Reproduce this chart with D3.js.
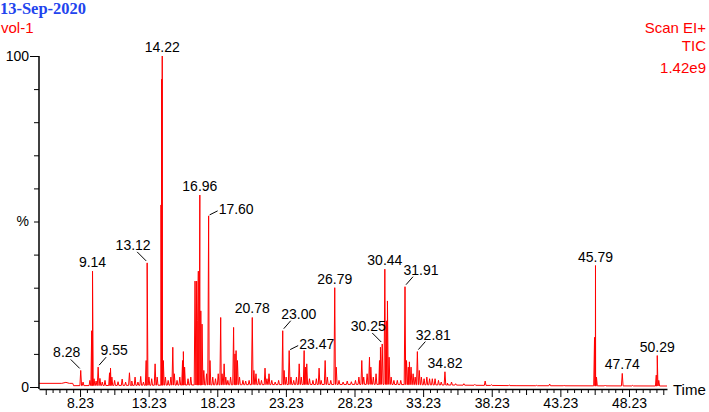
<!DOCTYPE html>
<html>
<head>
<meta charset="utf-8">
<script src="https://cdn.jsdelivr.net/npm/d3@7"></script>
<style>
  body { margin: 0; background: #fff; }
  svg { display: block; font-family: "Liberation Sans", Arial, sans-serif; }
</style>
</head>
<body>
<svg width="709" height="412"></svg>
<script>
const svg = d3.select("svg");

// Baseline level of the trace (time in min, intensity in %)
const baseTimes  = [5.24, 6.9, 7.2, 7.45, 7.70, 7.76, 12.0, 20.0, 30.0, 35.0, 40.0, 51.0];
const baseLevels = [1.1,  1.1, 1.4, 1.1,  1.1,  0.4,  0.5,  0.7,  0.8,  0.6,  0.4,  0.3];

// Peak apexes: retention time (min) and height (%)
const peakTimes = [
  8.28, 8.45, 8.95, 9.08, 9.14, 9.25, 9.40, 9.55, 9.68, 9.85,
  10.05, 10.38, 10.45, 10.55, 10.75, 11.0, 11.3, 11.55, 11.83, 12.0,
  12.24, 12.45, 12.65, 12.85, 13.05, 13.12, 13.25, 13.45, 13.70, 13.85,
  14.13, 14.18, 14.22, 14.30, 14.45, 14.65, 14.85, 14.99, 15.10, 15.30,
  15.50, 15.70, 15.76, 15.85, 16.10, 16.30, 16.61, 16.73, 16.80, 16.85,
  16.96, 17.03, 17.12, 17.25, 17.45, 17.60, 17.70, 17.90, 18.10, 18.30,
  18.48, 18.58, 18.73, 18.85, 19.00, 19.20, 19.42, 19.52, 19.60, 19.70,
  19.85, 20.10, 20.30, 20.55, 20.78, 20.90, 21.05, 21.25, 21.45, 21.71,
  21.85, 22.00, 22.20, 22.45, 22.70, 23.00, 23.10, 23.25, 23.47, 23.60,
  23.80, 24.00, 24.20, 24.35, 24.56, 24.65, 24.75, 24.95, 25.20, 25.45,
  25.65, 25.80, 26.09, 26.25, 26.50, 26.79, 26.90, 27.10, 27.40, 27.70,
  28.00, 28.30, 28.55, 28.76, 28.90, 29.15, 29.32, 29.42, 29.60, 29.80,
  30.05, 30.12, 30.25, 30.44, 30.55, 30.63, 30.75, 30.90, 31.10, 31.35,
  31.60, 31.91, 32.02, 32.15, 32.23, 32.35, 32.50, 32.65, 32.81, 32.95,
  33.10, 33.30, 33.50, 33.70, 33.90, 34.10, 34.35, 34.55, 34.82, 35.00,
  35.30, 35.60, 36.20, 37.00, 37.75, 38.20, 39.50, 41.50, 42.45, 43.50,
  45.72, 45.79, 45.86, 46.50, 47.74, 48.50, 50.22, 50.29, 50.40
];
const peakHeights = [
  5.0, 1.5, 2.0, 17, 35, 2.5, 1.8, 6.0, 2.6, 1.5,
  2.0, 4.3, 5.7, 3.0, 2.0, 1.6, 2.4, 1.5, 4.3, 1.8,
  3.0, 1.5, 3.2, 1.5, 8, 37.5, 3, 2.5, 7, 3,
  55, 93, 100, 8, 3, 2, 3, 12, 4, 2,
  3, 8, 10.7, 6, 2.5, 3, 32, 32, 20, 35,
  58, 23, 19, 5, 4, 51.7, 8, 3, 2.5, 4,
  21, 4, 7, 3, 2, 3, 18, 10, 11, 8,
  3, 2, 1.8, 2, 21, 5, 4, 2.5, 2, 5.7,
  2.5, 4, 2, 1.5, 2, 17, 5, 3, 11, 3,
  2, 3, 7, 3, 11, 6, 7, 2.5, 2, 2.5,
  5.7, 2, 8, 3, 2, 30, 6, 2, 1.5, 1.8,
  1.6, 2, 3, 8, 3, 4, 9, 6, 3, 4,
  8, 12, 13, 35.6, 20, 26, 9, 3, 2, 2,
  2, 30.3, 8, 6, 7.6, 6, 4, 3, 10.7, 5,
  3, 2.5, 3, 2.5, 2.5, 2.5, 2, 1.5, 4.6, 1.2,
  1.5, 1.0, 1.0, 0.8, 1.8, 0.7, 0.6, 0.5, 0.9, 0.5,
  15, 36.7, 3, 0.6, 4.1, 0.5, 3.6, 9.5, 2
];

// Labelled peaks
const labelTimes = [8.28, 9.14, 9.55, 13.12, 14.22, 16.96, 17.60, 20.78, 23.00, 23.47,
                    26.79, 30.25, 30.44, 31.91, 32.81, 34.82, 45.79, 47.74, 50.29];
const labelTexts = ["8.28", "9.14", "9.55", "13.12", "14.22", "16.96", "17.60", "20.78", "23.00", "23.47",
                    "26.79", "30.25", "30.44", "31.91", "32.81", "34.82", "45.79", "47.74", "50.29"];

// X tick values
const xMajorTicks = [8.23, 13.23, 18.23, 23.23, 28.23, 33.23, 38.23, 43.23, 48.23];
const yTicks = [0, 10, 20, 30, 40, 50, 60, 70, 80, 90, 100];

// label placement: leader direction for crowded labels
const leader = {
  "8.28": "upleft", "13.12": "upleft", "30.25": "upleft",
  "9.55": "upright", "23.00": "upright", "31.91": "upright", "32.81": "upright",
  "17.60": "right", "23.47": "right"
};

const x = d3.scaleLinear().domain([5.24, 51.0]).range([39, 667]);
const y = d3.scaleLinear().domain([0, 100]).range([387, 56]);
const baseAt = d3.scaleLinear().domain(baseTimes).range(baseLevels).clamp(true);

// build trace points: every peak rises from the baseline and falls back
const halfW = 0.06;
const pts = [];
baseTimes.forEach(t => pts.push([t, baseAt(t)]));
peakTimes.forEach((t, i) => {
  pts.push([t - halfW, baseAt(t - halfW)]);
  pts.push([t, peakHeights[i]]);
  pts.push([t + halfW, baseAt(t + halfW)]);
});
pts.sort((a, b) => a[0] - b[0]);

const line = d3.line().x(d => x(d[0])).y(d => y(d[1]));

svg.append("path")
  .datum(pts)
  .attr("d", line)
  .attr("fill", "none")
  .attr("stroke", "#ff0000")
  .attr("stroke-width", 1)
  .attr("stroke-linejoin", "miter");

// x axis
const xTickVals = d3.range(0, 91).map(k => 5.73 + k * 0.5).filter(v => v <= 51.0);
const xAxis = d3.axisBottom(x)
  .tickValues(xTickVals)
  .tickSize(4)
  .tickSizeOuter(0)
  .tickFormat(d => {
    const isMajor = xMajorTicks.some(m => Math.abs(m - d) < 1e-6);
    return isMajor ? d.toFixed(2) : "";
  });

const gx = svg.append("g")
  .attr("transform", "translate(0,389)")
  .call(xAxis);
gx.select(".domain").attr("stroke", "#000").attr("stroke-width", 1.5);
gx.selectAll(".tick line")
  .attr("stroke", "#000")
  .attr("y2", d => {
    const k = Math.round((d - 8.23) / 0.5);
    if (k % 10 === 0) return 8;
    if (k % 5 === 0) return 6;
    return 4;
  });
gx.selectAll(".tick text")
  .attr("y", 9)
  .attr("fill", "#000")
  .style("font-size", "14px")
  .style("font-family", "'Liberation Sans', Arial, sans-serif");

svg.append("text")
  .attr("x", 673)
  .attr("y", 395)
  .style("font-size", "15px")
  .text("Time");

// y axis
const yAxis = d3.axisLeft(y)
  .tickValues(yTicks)
  .tickSize(5)
  .tickSizeOuter(0)
  .tickFormat(d => (d === 0 || d === 100) ? d : "");
const gy = svg.append("g")
  .attr("transform", "translate(39,0)")
  .call(yAxis);
gy.select(".domain").attr("stroke", "#000").attr("stroke-width", 1.5)
  .attr("d", `M0,${y(100)}V389`);
gy.selectAll(".tick line")
  .attr("stroke", "#000")
  .attr("x2", d => (d === 0 || d === 100) ? -9 : -5);
gy.selectAll(".tick text")
  .attr("x", -10)
  .attr("fill", "#000")
  .style("font-size", "14px")
  .style("font-family", "'Liberation Sans', Arial, sans-serif");

svg.append("text")
  .attr("x", 29)
  .attr("y", y(50))
  .attr("dy", "0.35em")
  .attr("text-anchor", "end")
  .style("font-size", "14px")
  .text("%");

// peak labels
labelTimes.forEach((t, i) => {
  const h = peakHeights[peakTimes.indexOf(t)];
  const ax = x(t), ay = y(h);
  const txt = labelTexts[i];
  const mode = leader[txt];
  let tx = ax, ty = ay - 4, anchor = "middle";
  if (mode === "upleft") {
    svg.append("line").attr("x1", ax - 1).attr("y1", ay - 2).attr("x2", ax - 10).attr("y2", ay - 11)
      .attr("stroke", "#000");
    tx = ax - 14; ty = ay - 13;
  } else if (mode === "upright") {
    svg.append("line").attr("x1", ax + 1).attr("y1", ay - 2).attr("x2", ax + 8).attr("y2", ay - 10)
      .attr("stroke", "#000");
    tx = ax + 16; ty = ay - 12;
  } else if (mode === "right") {
    svg.append("line").attr("x1", ax + 1).attr("y1", ay - 1).attr("x2", ax + 9).attr("y2", ay - 5)
      .attr("stroke", "#000");
    tx = ax + 10; ty = ay - 2; anchor = "start";
  }
  svg.append("text")
    .attr("x", tx)
    .attr("y", ty)
    .attr("text-anchor", anchor)
    .style("font-size", "14px")
    .attr("fill", "#000")
    .text(txt);
});

// header texts
svg.append("text")
  .attr("x", 0)
  .attr("y", 14)
  .attr("textLength", 86)
  .attr("lengthAdjust", "spacingAndGlyphs")
  .style("font-family", "'Liberation Serif', 'Times New Roman', serif")
  .style("font-weight", "bold")
  .style("font-size", "16px")
  .attr("fill", "#2244ee")
  .text("13-Sep-2020");

svg.append("text")
  .attr("x", 1)
  .attr("y", 33)
  .style("font-size", "15px")
  .attr("fill", "#ff0000")
  .text("vol-1");

const right = [["Scan EI+", 33], ["TIC", 51], ["1.42e9", 73]];
right.forEach(r => {
  svg.append("text")
    .attr("x", 706)
    .attr("y", r[1])
    .attr("text-anchor", "end")
    .style("font-size", "15px")
    .attr("fill", "#ff0000")
    .text(r[0]);
});
</script>
</body>
</html>
